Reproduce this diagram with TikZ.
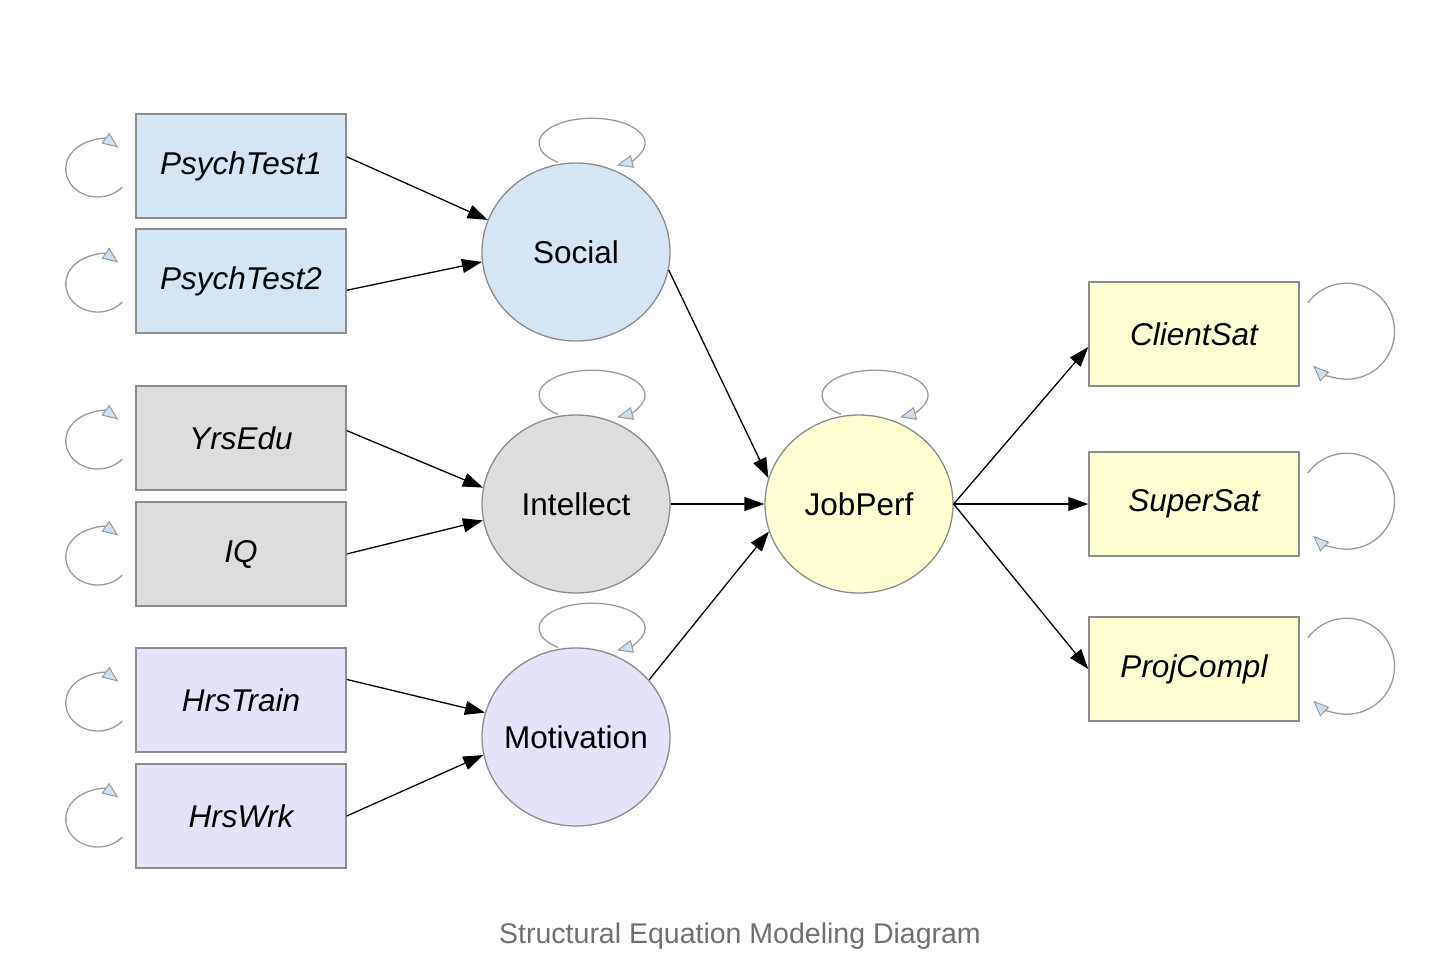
\documentclass[tikz,border=0pt]{standalone}
\usepackage{fontspec}
\setmainfont{Liberation Sans}
\usetikzlibrary{arrows.meta,shapes.geometric}
\definecolor{psyblue}{HTML}{D5E5F3}
\definecolor{intgray}{HTML}{DDDDDD}
\definecolor{motlav}{HTML}{E4E4F8}
\definecolor{perfyel}{HTML}{FFFFD2}
\definecolor{edgegray}{HTML}{8C8C8C}
\definecolor{loopgray}{HTML}{9A9A9A}
\definecolor{tipblue}{HTML}{CCE0F2}
\definecolor{captgray}{HTML}{707070}
\begin{document}
\begin{tikzpicture}[x=1pt,y=1pt,
	obs/.style={draw=edgegray,line width=1.5pt,minimum width=210pt,minimum height=104pt,inner sep=0pt,font=\fontsize{31.5}{36}\selectfont\itshape},
	lat/.style={ellipse,draw=edgegray,line width=1.3pt,minimum width=188pt,minimum height=178pt,inner xsep=-20pt,inner ysep=0pt,font=\fontsize{31.5}{36}\selectfont},
	arr/.style={-{Triangle[length=20pt,width=14pt]},line width=1.3pt},
	err/.style={draw=loopgray,line width=1.3pt,-{Triangle[length=16pt,width=13pt,fill=tipblue,line width=1pt]}}]
	\useasboundingbox (0,0) rectangle (1452,-954);
	% observed indicators
	\node[obs,fill=psyblue] (p1) at (241,-166) {PsychTest1};
	\node[obs,fill=psyblue] (p2) at (241,-281) {PsychTest2};
	\node[obs,fill=intgray] (ye) at (241,-438) {YrsEdu};
	\node[obs,fill=intgray] (iq) at (241,-554) {IQ};
	\node[obs,fill=motlav]  (ht) at (241,-700) {HrsTrain};
	\node[obs,fill=motlav]  (hw) at (241,-816) {HrsWrk};
	% latent factors
	\node[lat,fill=psyblue] (soc) at (576,-252) {Social};
	\node[lat,fill=intgray] (int) at (576,-504) {Intellect};
	\node[lat,fill=motlav]  (mot) at (576,-737) {Motivation};
	\node[lat,fill=perfyel] (job) at (859,-504) {JobPerf};
	% outcomes
	\node[obs,fill=perfyel] (cs) at (1194,-334) {ClientSat};
	\node[obs,fill=perfyel] (ss) at (1194,-504) {SuperSat};
	\node[obs,fill=perfyel] (pc) at (1194,-669) {ProjCompl};

	\draw[arr] (p1.5) -- (soc.160);
	\draw[arr] (p2.-5) -- (soc.186);
	\draw[arr] (ye.4) -- (int.170);
	\draw[arr] (iq.east) -- (int.190);
	\draw[arr] (ht.11) -- (mot.165);
	\draw[arr] (hw.east) -- (mot.191);
	\draw[arr] (soc.-11) -- (job.164);
	\draw[arr] (int.east) -- (job.west);
	\draw[arr] (mot.38) -- (job.197);
	\draw[arr] (job.east) -- (cs.187);
	\draw[arr] (job.east) -- (ss.west);
	\draw[arr] (job.east) -- (pc.west);

	% error variances
	\foreach \n in {p1,p2,ye,iq,ht,hw}
		\draw[err] ([shift={(-13,-21)}]\n.west) arc[start angle=-40,end angle=-310,x radius=32,y radius=28];
	\foreach \n in {soc,int,mot,job}
		\draw[err] ([xshift=-18]\n.north) arc[start angle=230,end angle=-62,x radius=53,y radius=25];
	\foreach \n in {cs,ss,pc}
		\draw[err] ([shift={(8,31)}]\n.east) arc[start angle=144,end angle=-134,radius=48];

	\node[anchor=base,font=\fontsize{28.5}{34}\selectfont,text=captgray] (cap) at (740,-943) {Structural Equation Modeling Diagram};
\end{tikzpicture}
\end{document}
